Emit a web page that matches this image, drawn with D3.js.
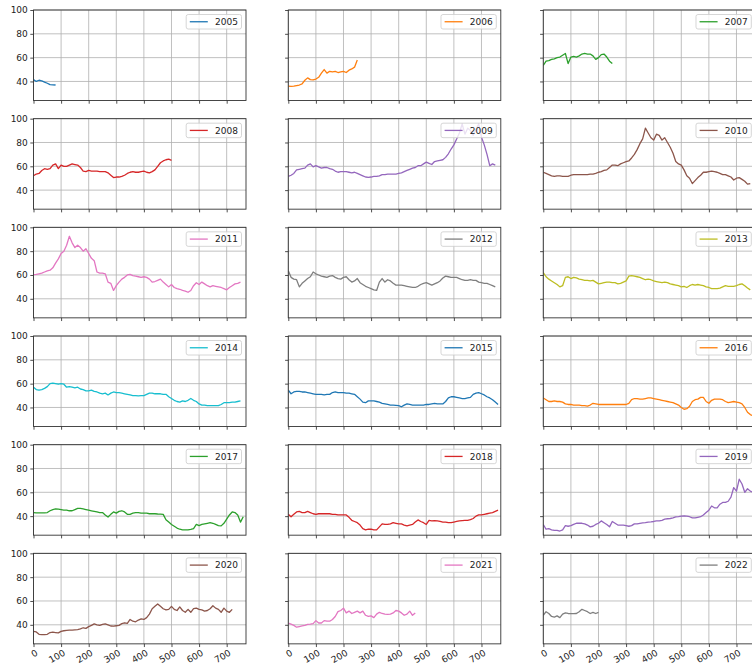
<!DOCTYPE html>
<html>
<head>
<meta charset="utf-8">
<script src="https://cdn.jsdelivr.net/npm/d3@7"></script>
<style>
  body { margin: 0; background: #fff; }
  text { font-family: "DejaVu Sans", sans-serif; }
</style>
</head>
<body>
<script>
// one panel per year, values sampled every 10 index steps
let years = [2005, 2006, 2007, 2008, 2009, 2010, 2011, 2012, 2013,
             2014, 2015, 2016, 2017, 2018, 2019, 2020, 2021, 2022];
let step = 10;
let xTicks = [0, 100, 200, 300, 400, 500, 600, 700];
let yTicks = [40, 60, 80, 100];

let y2005 = [41.5, 40, 41, 40.5, 39.5, 38.5, 37.3, 37.2, 37];
let y2006 = [36, 35.8, 36, 36.5, 37, 38, 41, 43, 41.5, 41.3, 42, 43.5, 47, 50, 47, 48.5, 48, 48.5, 47.5, 48,
             48.5, 47.5, 49.5, 50.5, 52, 58];
let y2007 = [53.5, 57, 57.5, 58.5, 59, 60, 60.5, 62, 63.5, 55, 60.5, 61, 60.5, 61.5, 63, 63.5, 63, 63, 61.5, 58.5,
             60, 62.5, 63, 60.5, 57, 55];
let y2008 = [52, 53.5, 54, 56.5, 58, 57.5, 58, 61, 62, 58, 61, 60, 60, 61, 62, 61.5, 61, 59, 56, 55.5,
             56.5, 56, 56, 56, 55.5, 55.5, 55.5, 54.5, 52.5, 50.5, 51, 51, 51.5, 52.5, 54, 55, 55.5, 55, 55, 55.5,
             56, 55, 54.5, 55.5, 57, 60, 63, 64.5, 65.5, 66, 65];
let y2009 = [51.5, 52.5, 54, 57, 57.5, 58, 58.5, 61, 62, 59.5, 60.5, 59.5, 58.5, 59, 59, 58, 57.5, 56, 55, 55.5,
             55.5, 55.5, 55, 54.5, 55, 54, 53, 52, 51, 50.7, 51, 51.5, 51.5, 52, 53, 53, 53.5, 53.5, 53.5, 53.5,
             54, 54.5, 55.5, 56.5, 57.5, 58.5, 59, 60.5, 60.5, 62, 63.5, 62.5, 61.5, 64, 64.5, 65, 65.5, 67.5, 70.5, 74.5,
             78, 83, 88, 95.5, 87, 92, 90, 86, 91, 95.5, 84.5, 78, 70, 60.5, 62, 61];
let y2010 = [55, 54, 53, 52, 51.5, 52, 52, 51.5, 51.5, 51.5, 52.5, 53, 53, 53, 53, 53, 53, 53.5, 53.5, 54,
             55, 55.5, 56.5, 57, 59, 61, 61, 60.5, 62, 63, 64, 64.5, 67, 70, 74, 79, 83, 92, 88, 84,
             82, 87, 86, 82, 84, 80, 76, 71, 64, 62, 61, 57, 52, 50, 45.5, 48, 50.5, 52.5, 55, 55,
             55.5, 56, 55.5, 55, 54, 53, 53, 52, 51, 48.5, 50, 50.5, 49, 47.5, 45, 45.5];
let y2011 = [60.3, 60.5, 61, 61.5, 62.5, 63.5, 64, 66, 70, 73.5, 78, 80, 85, 92.5, 87, 83, 85, 83, 80, 82,
             78, 74, 72, 62.5, 61.5, 61.5, 61, 54, 53, 47, 51, 54, 56.5, 58, 60, 60.5, 59.5, 59, 58.5, 58,
             58.5, 58, 56.5, 54, 54.5, 55.5, 56.5, 54, 52, 50, 52, 49.5, 48.5, 48, 47, 46.5, 45.5, 47, 51, 53.5,
             52, 54, 52.5, 51, 50, 51, 50.5, 50, 49.5, 48.5, 47.5, 49.5, 51, 52.5, 53, 54];
let y2012 = [63.5, 58, 56.5, 56, 50, 53, 55, 57, 58.5, 62.5, 61, 60, 59, 58.5, 58, 59, 59.5, 58, 57, 56.5,
             58, 58.5, 56, 54, 55, 57, 53.5, 52, 50.5, 49.5, 48.5, 47.5, 47, 54, 57, 54, 56, 55, 53, 51.5,
             51.5, 51.5, 51, 50.5, 50, 49.5, 49.5, 50.5, 52, 53, 53.5, 52.5, 51.5, 52.5, 53.5, 55, 57.5, 59, 58.5, 58,
             58, 58, 57, 56, 55.5, 55.5, 56, 55.5, 55.5, 54, 53.5, 53, 53, 52, 51, 50];
let y2013 = [62, 58.5, 56.5, 55, 53.5, 52, 50, 51, 58, 58.5, 57, 58, 57.5, 56.5, 56, 55.5, 55.5, 55, 55.5, 54,
             52.5, 53, 53.5, 54, 54, 53.5, 53.5, 52.5, 53, 54, 55, 59, 59.5, 59, 58.5, 58, 57, 56, 56.5, 56,
             55, 54.5, 54, 53.5, 54, 53.5, 52.5, 52, 51.5, 51, 50, 50.5, 49.5, 51, 52, 51.5, 52, 51.5, 51, 50,
             49.5, 48.5, 48.5, 48.5, 49, 50, 51, 50.5, 50.5, 50.5, 51, 52, 52.5, 51, 49, 47.5];
let y2014 = [57, 55, 54.5, 55, 56, 57.5, 60, 60.5, 60, 59.5, 60, 59.5, 57, 57.5, 57, 56.5, 57, 55.5, 55, 54,
             54, 54.5, 53.5, 53, 52, 51.5, 52, 50.5, 52, 53, 52.5, 52.5, 52, 51.5, 51, 50.5, 50, 50, 49.8, 50,
             50, 51, 52, 52, 51.5, 51.5, 51.5, 51, 51, 49, 47.5, 46, 45, 44.5, 45.5, 45, 46, 47.5, 46, 45,
             43, 42, 42, 41.5, 41.5, 41.5, 41.5, 41.5, 42.5, 44, 44, 44, 44.5, 44.5, 45, 45.5];
let y2015 = [54.5, 51.5, 53, 53.5, 53.5, 53, 53, 52.5, 52, 51.5, 51, 51, 51, 50.5, 51, 51, 52.5, 53, 52.5, 52.5,
             52.5, 52, 52, 51.5, 51, 49, 47, 44.5, 44, 45.5, 45.5, 45.5, 45, 44.5, 43.5, 43, 42.5, 42, 42, 41.8,
             41.5, 40.6, 42, 43, 42.5, 42, 42, 42, 42, 42, 42.5, 42.5, 43, 43.5, 43, 43, 43, 45, 48, 49,
             49, 48.5, 48, 47.5, 47.5, 48, 48.5, 51, 52, 52.5, 51.5, 50.5, 49, 48, 46.5, 44.5, 42.5];
let y2016 = [48, 46.5, 45, 45, 45.5, 45, 45, 44.5, 43, 42.5, 42.5, 42, 42, 42, 41.5, 41.5, 41.2, 42, 43.5, 43,
             42.5, 42.5, 42.5, 42.5, 42.5, 42.5, 42.5, 42.5, 42.5, 42.5, 42.5, 43.5, 46.5, 47.5, 47.5, 47, 47, 47.5, 48, 48,
             47.5, 47, 46.5, 46, 45.5, 45, 44.5, 44, 43, 42, 40, 38.5, 39, 41, 45, 46.5, 47, 48.5, 48.5, 45,
             43.5, 46, 47, 47, 47, 46.5, 45, 44, 44.5, 45, 44.5, 44, 43, 40, 36, 34, 33];
let y2017 = [43, 42.8, 42.8, 42.8, 42.8, 43, 44.5, 45.5, 46, 45.8, 45.5, 45, 45, 44.5, 44.5, 45.5, 46.5, 46.5, 46, 45.5,
             45, 44.5, 44, 43.5, 43, 43, 41, 39.2, 41.5, 43.5, 42.5, 44, 44.5, 43.5, 41.5, 41.5, 42.5, 43, 43, 42.5,
             42.5, 42.5, 42, 42, 42, 41.8, 41.7, 41.5, 37, 35, 33, 31.5, 30, 29, 28.5, 28.5, 28.5, 28.8, 29.5, 33,
             32, 33, 33.5, 34, 34.5, 34, 33, 32, 31.8, 34, 37.5, 41, 43.5, 43, 41, 35, 39.5];
let y2018 = [41.5, 39.5, 41.5, 43.5, 44, 43, 43, 44, 43, 42, 41.5, 42, 42, 42, 42, 42, 41.5, 41.5, 41, 41,
             41, 41, 39, 36.5, 35.5, 34.5, 32.5, 29.5, 28.5, 29, 29, 28.5, 28.5, 31, 33.5, 33, 33, 33.5, 34.5, 34,
             33.5, 33.5, 32.5, 31.8, 32.5, 33, 35, 36.8, 35.5, 34.5, 33, 36.5, 36, 36.3, 36, 35.5, 35, 35, 34.5, 34.5,
             35, 35.5, 36, 36.3, 36.5, 36.5, 37, 38, 40, 41, 41, 41.5, 42, 42.5, 43, 44, 45];
let y2019 = [33, 29, 29.5, 28.5, 28, 28, 27.5, 28.5, 32, 31.5, 32, 33, 34, 34, 34, 33.5, 32.5, 31, 31.5, 33,
             34, 36, 34.5, 33, 31, 35.5, 34, 32.5, 32.5, 32.5, 32, 31.5, 32, 33.5, 33.5, 34, 34.3, 34.5, 35, 35.2,
             35.5, 36, 36, 36.5, 37.5, 37.8, 38, 38.5, 39.3, 39.5, 40, 40.3, 40, 39.5, 38.5, 38.5, 39, 39.5, 41, 43,
             45, 48.5, 47, 47, 50, 51.5, 51.5, 52.5, 56, 64, 61, 71, 67, 60, 63, 61, 60];
let y2020 = [34.5, 34, 32, 31.8, 31.8, 32, 33.5, 33.8, 33.5, 33.2, 34.5, 35, 35.3, 35.5, 35.5, 35.8, 36, 36.5, 37.5, 37,
             38.5, 39.5, 40.8, 40, 39.5, 40.3, 40.8, 40, 39, 38.8, 39.2, 39.5, 41, 41.7, 41.2, 44.5, 43, 42.5, 44, 45,
             44.5, 46, 49, 53.5, 55.5, 57.5, 55.5, 53.5, 52.5, 53, 55.5, 53, 52, 55, 52, 50.5, 53, 50.5, 53.5, 54,
             53, 52.5, 51.5, 52, 53.5, 56, 54, 53, 50.5, 54, 51.5, 50.5, 53];
let y2021 = [41.5, 40.5, 39.5, 38, 38.5, 39, 39.5, 40.3, 40.5, 41, 43.5, 41.5, 41.5, 43.5, 43, 43, 44.5, 47, 51, 52,
             54, 50, 51.5, 49.5, 50.5, 51.5, 50, 51.5, 48, 47, 47.5, 46, 49, 50.5, 49.5, 49, 48.8, 49, 50, 52,
             51.5, 50, 48, 49, 51.5, 48, 50];
let y2022 = [48, 51, 49.5, 47, 46.5, 47.5, 46, 49, 50, 49.5, 49.3, 49.3, 49.5, 51, 53, 52, 51, 49.5, 50.5, 49.5, 50.5];

let series = [y2005, y2006, y2007, y2008, y2009, y2010, y2011, y2012, y2013,
              y2014, y2015, y2016, y2017, y2018, y2019, y2020, y2021, y2022];
let colors = d3.schemeCategory10;

let width = 752, height = 666;
let colLeft = [33.5, 288.3, 543.3];
let rowTop = 10, rowGap = 108.67;
let pw = 212.5, ph = 90.5;

let svg = d3.select('body').append('svg')
    .attr('width', width)
    .attr('height', height);

// every panel shares the same scales
let x = d3.scaleLinear().domain([0, 770]).range([0, pw]);
let y = d3.scaleLinear().domain([24, 100]).range([ph, 0]);

let line = d3.line()
  .x(function(d, i){ return x(i * step); })
  .y(function(d){ return y(d); });

years.forEach(function(yr, k){
  let row = Math.floor(k / 3), col = k % 3;
  let g = svg.append('g')
      .attr('transform', 'translate(' + colLeft[col] + ',' + (rowTop + row * rowGap) + ')');

  g.append('clipPath').attr('id', 'clip' + yr)
    .append('rect').attr('width', pw).attr('height', ph);

  // grid
  g.selectAll('.vgrid').data(xTicks).enter().append('line')
      .attr('x1', d => x(d)).attr('x2', d => x(d))
      .attr('y1', 0).attr('y2', ph)
      .attr('stroke', '#b0b0b0').attr('stroke-width', 0.8);
  g.selectAll('.hgrid').data(yTicks).enter().append('line')
      .attr('x1', 0).attr('x2', pw)
      .attr('y1', d => y(d)).attr('y2', d => y(d))
      .attr('stroke', '#b0b0b0').attr('stroke-width', 0.8);

  g.append('path')
      .datum(series[k])
      .attr('clip-path', 'url(#clip' + yr + ')')
      .attr('fill', 'none')
      .attr('stroke', colors[k % 10])
      .attr('stroke-width', 1.3)
      .attr('stroke-linejoin', 'round')
      .attr('d', line);

  // axes
  let xAxis = d3.axisBottom(x).tickValues(xTicks).tickSize(3.2).tickSizeOuter(0)
      .tickFormat(row === 5 ? d3.format('d') : '');
  let yAxis = d3.axisLeft(y).tickValues(yTicks).tickSize(3.2).tickSizeOuter(0).tickPadding(2.5)
      .tickFormat(col === 0 ? d3.format('d') : '');

  let gx = g.append('g').attr('transform', 'translate(0,' + ph + ')').call(xAxis);
  let gy = g.append('g').call(yAxis);
  [gx, gy].forEach(function(a){
    a.select('.domain').remove();
    a.selectAll('.tick line').attr('stroke', '#222').attr('stroke-width', 0.8);
    a.selectAll('.tick text').attr('fill', '#222').style('font-size', '9px')
      .style('font-family', '"DejaVu Sans", sans-serif');
  });
  gx.selectAll('.tick text')
      .attr('x', 0).attr('y', 0).attr('dy', '0.75em')
      .attr('text-anchor', 'end')
      .attr('transform', 'translate(1,5) rotate(-30)');

  g.append('rect')
      .attr('width', pw).attr('height', ph)
      .attr('fill', 'none').attr('stroke', '#333').attr('stroke-width', 0.9);

  // legend, upper right
  let lg = g.append('g');
  let box = lg.append('rect');
  let txt = lg.append('text').text(yr)
      .style('font-size', '9px').attr('fill', '#222');
  let tw = txt.node().getComputedTextLength();
  let bw = 3.6 + 18 + 7.2 + tw + 3.6, bh = 14.5;
  let bx = pw - 4.5 - bw, by = 4.5;
  box.attr('x', bx).attr('y', by).attr('width', bw).attr('height', bh)
      .attr('rx', 2).attr('fill', '#fff').attr('fill-opacity', 0.8)
      .attr('stroke', '#cccccc').attr('stroke-width', 0.8);
  lg.append('line')
      .attr('x1', bx + 3.6).attr('x2', bx + 21.6)
      .attr('y1', by + bh / 2).attr('y2', by + bh / 2)
      .attr('stroke', colors[k % 10]).attr('stroke-width', 1.3);
  txt.attr('x', bx + 28.8).attr('y', by + bh / 2).attr('dy', '0.35em');
});
</script>
</body>
</html>
